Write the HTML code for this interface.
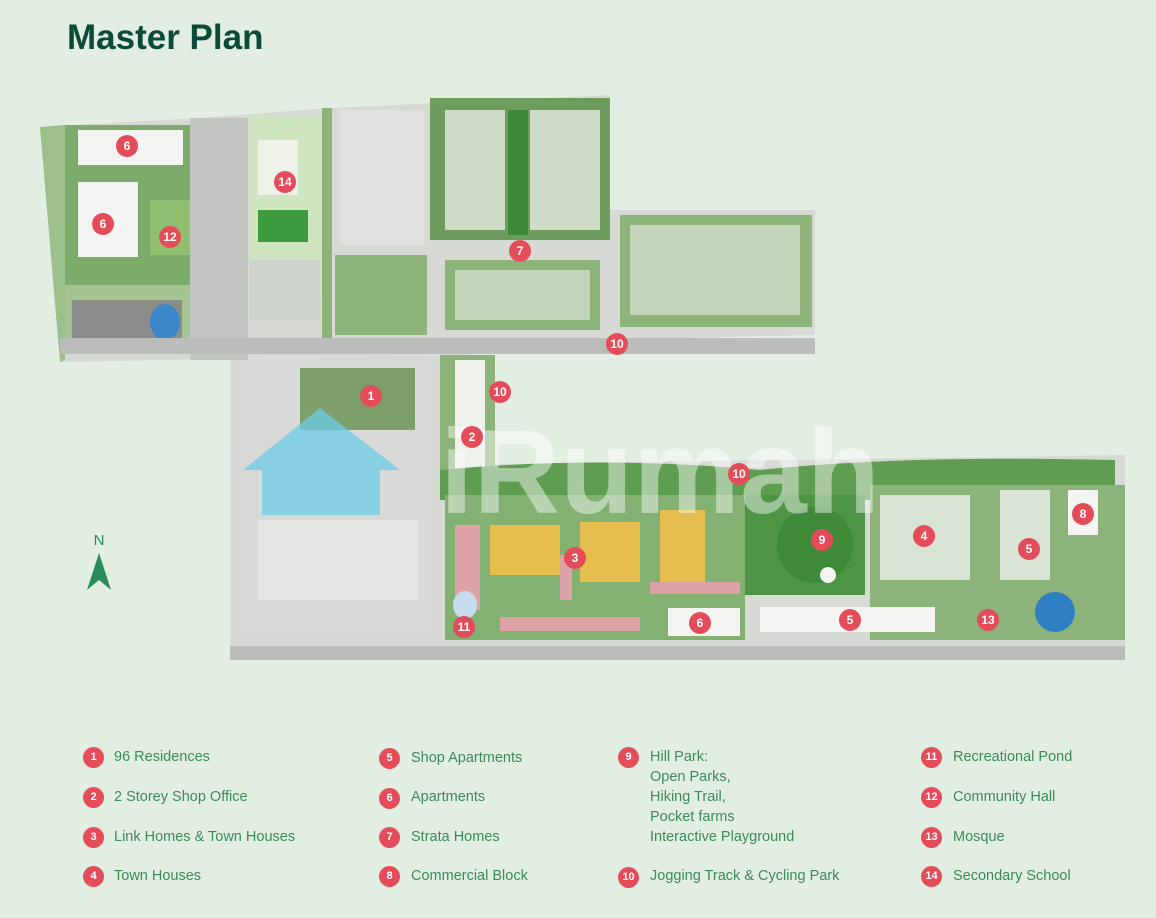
<!DOCTYPE html>
<html><head><meta charset="utf-8"><style>
body{margin:0;width:1156px;height:918px;background:#e2eee2;font-family:"Liberation Sans",sans-serif;overflow:hidden;position:relative}
h1{position:absolute;left:67px;top:18px;margin:0;font-size:35px;color:#0b4a37;font-weight:bold}
.lg{position:absolute;font-size:14.5px;color:#3a8a5a;line-height:20px}
.c{position:absolute;width:21px;height:21px;border-radius:50%;background:#e54c5a;color:#fff;font-size:11px;font-weight:bold;text-align:center;line-height:21px}
svg{position:absolute;left:0;top:0}
</style></head><body>
<h1>Master Plan</h1>
<svg width="1156" height="918">
<polygon points="40,127 200,118 330,108 610,95 610,210 815,210 815,335 470,343 470,355 230,358 230,660 1125,660 1125,455 440,465 440,355 60,362" fill="#d6d9d4"/>
<polygon points="40,127 65,125 65,360 60,362" fill="#9cc08a"/>
<rect x="65" y="125" width="125" height="160" fill="#7dab6a"/>
<rect x="78" y="130" width="105" height="35" fill="#f4f4f2"/>
<rect x="78" y="182" width="60" height="75" fill="#f4f4f2"/>
<rect x="150" y="200" width="40" height="55" fill="#8fbf6f"/>
<rect x="65" y="285" width="125" height="55" fill="#a4c492"/>
<rect x="72" y="300" width="110" height="45" fill="#8a8d8a"/>
<ellipse cx="165" cy="322" rx="15" ry="18" fill="#3a86c9"/>
<rect x="190" y="118" width="58" height="242" fill="#c3c5c3"/>
<rect x="250" y="115" width="72" height="180" fill="#cfe5bf"/>
<rect x="258" y="210" width="50" height="32" fill="#3e9a3e"/>
<rect x="258" y="140" width="40" height="55" fill="#f4f4f2" opacity=".8"/>
<rect x="250" y="260" width="70" height="60" fill="#cbd3cb"/>
<rect x="322" y="108" width="10" height="230" fill="#8cb47a"/>
<rect x="340" y="110" width="85" height="135" fill="#dfe1df"/>
<rect x="335" y="255" width="92" height="80" fill="#8cb47a"/>
<rect x="430" y="98" width="180" height="142" fill="#6d9c5d"/>
<rect x="445" y="110" width="60" height="120" fill="#eef0ec" opacity=".75"/>
<rect x="530" y="110" width="70" height="120" fill="#eef0ec" opacity=".75"/>
<rect x="508" y="110" width="20" height="125" fill="#3a8a3a"/>
<rect x="445" y="260" width="155" height="70" fill="#8cb47a"/>
<rect x="455" y="270" width="135" height="50" fill="#eef0ec" opacity=".55"/>
<rect x="620" y="215" width="192" height="112" fill="#8cb47a"/>
<rect x="630" y="225" width="170" height="90" fill="#eef0ec" opacity=".55"/>
<rect x="60" y="338" width="755" height="16" fill="#bbbdbb"/>
<rect x="240" y="362" width="190" height="270" fill="#d8dad8"/>
<rect x="300" y="368" width="115" height="62" fill="#7da06a"/>
<rect x="258" y="520" width="160" height="80" fill="#e4e6e4"/>
<rect x="440" y="355" width="55" height="130" fill="#8cb47a"/>
<rect x="455" y="360" width="30" height="125" fill="#eef0ec"/>
<path d="M440,470 Q600,455 760,470 Q900,455 1115,460 L1115,500 L440,500Z" fill="#5f9e50"/>
<rect x="445" y="495" width="300" height="145" fill="#82b172"/>
<g fill="#e6be4e"><rect x="490" y="525" width="70" height="50"/><rect x="580" y="522" width="60" height="60"/><rect x="660" y="510" width="45" height="75"/></g>
<g fill="#dca2a6"><rect x="455" y="525" width="25" height="85"/><rect x="560" y="555" width="12" height="45"/><rect x="500" y="617" width="140" height="14"/><rect x="650" y="582" width="90" height="12"/></g>
<ellipse cx="465" cy="605" rx="12" ry="14" fill="#c8dcf0"/>
<rect x="745" y="495" width="120" height="100" fill="#4d9444"/>
<circle cx="815" cy="545" r="38" fill="#3e8a38"/>
<circle cx="828" cy="575" r="8" fill="#f4f4f2"/>
<rect x="870" y="485" width="255" height="155" fill="#8cb47a"/>
<rect x="880" y="495" width="90" height="85" fill="#eef0ec" opacity=".8"/>
<rect x="1000" y="490" width="50" height="90" fill="#eef0ec" opacity=".8"/>
<rect x="1068" y="490" width="30" height="45" fill="#f4f4f2"/>
<ellipse cx="1055" cy="612" rx="20" ry="20" fill="#2f7fc4"/>
<rect x="760" y="607" width="175" height="25" fill="#f4f4f2"/>
<rect x="668" y="608" width="72" height="28" fill="#f4f4f2"/>
<rect x="230" y="646" width="895" height="14" fill="#bbbdbb"/>
<path d="M243,470 L320,408 L400,470 L380,470 L380,515 L262,515 L262,470Z" fill="#6ccbe8" opacity=".75"/>
<text x="440" y="513" font-family="Liberation Sans,sans-serif" font-size="120" font-weight="bold" fill="#fff" opacity=".45">iRumah</text>
<text x="99" y="545" font-size="15" fill="#2a8a5a" text-anchor="middle" font-family="Liberation Sans,sans-serif">N</text>
<polygon points="99,553 87,590 99,580 111,590" fill="#2a8a5a"/>
<g font-family="Liberation Sans,sans-serif" font-size="12" font-weight="bold" fill="#fff" text-anchor="middle">
<g fill="#e54c5a"><circle cx="127" cy="146" r="11"/><circle cx="103" cy="224" r="11"/><circle cx="170" cy="237" r="11"/><circle cx="285" cy="182" r="11"/><circle cx="520" cy="251" r="11"/><circle cx="617" cy="344" r="11"/><circle cx="371" cy="396" r="11"/><circle cx="500" cy="392" r="11"/><circle cx="472" cy="437" r="11"/><circle cx="739" cy="474" r="11"/><circle cx="575" cy="558" r="11"/><circle cx="822" cy="540" r="11"/><circle cx="924" cy="536" r="11"/><circle cx="1029" cy="549" r="11"/><circle cx="1083" cy="514" r="11"/><circle cx="464" cy="627" r="11"/><circle cx="700" cy="623" r="11"/><circle cx="850" cy="620" r="11"/><circle cx="988" cy="620" r="11"/></g>
<text x="127" y="150">6</text><text x="103" y="228">6</text><text x="170" y="241">12</text><text x="285" y="186">14</text><text x="520" y="255">7</text><text x="617" y="348">10</text><text x="371" y="400">1</text><text x="500" y="396">10</text><text x="472" y="441">2</text><text x="739" y="478">10</text><text x="575" y="562">3</text><text x="822" y="544">9</text><text x="924" y="540">4</text><text x="1029" y="553">5</text><text x="1083" y="518">8</text><text x="464" y="631">11</text><text x="700" y="627">6</text><text x="850" y="624">5</text><text x="988" y="624">13</text>
</g>
</svg>
<div class="c" style="left:83px;top:747px">1</div><div class="lg" style="left:114px;top:747px">96 Residences</div>
<div class="c" style="left:83px;top:787px">2</div><div class="lg" style="left:114px;top:787px">2 Storey Shop Office</div>
<div class="c" style="left:83px;top:827px">3</div><div class="lg" style="left:114px;top:827px">Link Homes &amp; Town Houses</div>
<div class="c" style="left:83px;top:866px">4</div><div class="lg" style="left:114px;top:866px">Town Houses</div>
<div class="c" style="left:379px;top:748px">5</div><div class="lg" style="left:411px;top:748px">Shop Apartments</div>
<div class="c" style="left:379px;top:788px">6</div><div class="lg" style="left:411px;top:787px">Apartments</div>
<div class="c" style="left:379px;top:827px">7</div><div class="lg" style="left:411px;top:827px">Strata Homes</div>
<div class="c" style="left:379px;top:866px">8</div><div class="lg" style="left:411px;top:866px">Commercial Block</div>
<div class="c" style="left:618px;top:747px">9</div><div class="lg" style="left:650px;top:747px">Hill Park:<br>Open Parks,<br>Hiking Trail,<br>Pocket farms<br>Interactive Playground</div>
<div class="c" style="left:618px;top:867px">10</div><div class="lg" style="left:650px;top:866px">Jogging Track &amp; Cycling Park</div>
<div class="c" style="left:921px;top:747px">11</div><div class="lg" style="left:953px;top:747px">Recreational Pond</div>
<div class="c" style="left:921px;top:787px">12</div><div class="lg" style="left:953px;top:787px">Community Hall</div>
<div class="c" style="left:921px;top:827px">13</div><div class="lg" style="left:953px;top:827px">Mosque</div>
<div class="c" style="left:921px;top:866px">14</div><div class="lg" style="left:953px;top:866px">Secondary School</div>
</body></html>
